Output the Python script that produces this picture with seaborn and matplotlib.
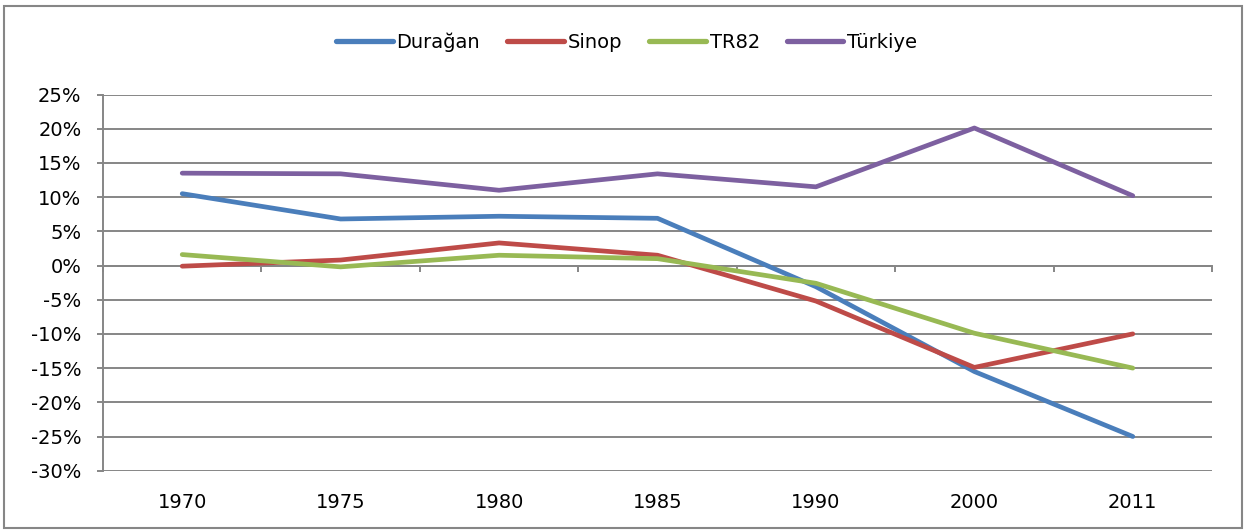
import numpy as np
import pandas as pd
import seaborn as sns
import matplotlib
matplotlib.use("Agg")
import matplotlib.pyplot as plt
from matplotlib.patches import Rectangle

# data (percent)
years = ["1970", "1975", "1980", "1985", "1990", "2000", "2011"]
duragan = [10.5, 6.8, 7.2, 6.9, -3.1, -15.5, -25.0]
sinop = [-0.1, 0.8, 3.3, 1.5, -5.2, -14.9, -10.0]
tr82 = [1.6, -0.2, 1.5, 1.0, -2.6, -9.9, -15.0]
turkiye = [13.5, 13.4, 11.0, 13.4, 11.5, 20.1, 10.2]

series = ["Durağan", "Sinop", "TR82", "Türkiye"]
colors = ["#4a7ebb", "#be4b48", "#98b954", "#7d60a0"]

df = pd.DataFrame({"yil": years, "Durağan": duragan, "Sinop": sinop,
                   "TR82": tr82, "Türkiye": turkiye})
df = df.melt(id_vars="yil", var_name="seri", value_name="deger")

sns.set_style("white")
plt.rcParams["font.family"] = ["DejaVu Sans"]
plt.rcParams["text.color"] = "black"
gri = "#868686"

fig = plt.figure(figsize=(12.46, 5.31), dpi=100)
ax = fig.add_axes([103 / 1246, 1 - 470.7 / 531, 1109 / 1246, 376.2 / 531])

sns.lineplot(data=df, x="yil", y="deger", hue="seri", hue_order=series,
             palette=dict(zip(series, colors)), linewidth=3.4, sort=False,
             ax=ax, legend=True)
for ln in ax.get_lines():
    ln.set_solid_capstyle("round")

# axes styling, excel-ish
ax.set_xlim(-0.5, len(years) - 0.5)
ax.set_ylim(-30, 25)
ax.set_yticks(np.arange(-30, 26, 5))
ax.set_yticklabels([f"{v}%" for v in range(-30, 26, 5)])
ax.set_xlabel("")
ax.set_ylabel("")
ax.grid(axis="y", color=gri, linewidth=1.4)
ax.grid(axis="x", visible=False)
for s in ["top", "right", "bottom"]:
    ax.spines[s].set_visible(False)
ax.spines["left"].set_color(gri)
ax.spines["left"].set_linewidth(1.4)
ax.tick_params(axis="y", direction="out", length=4.5, width=1.4, color=gri,
               labelsize=14, labelcolor="black", pad=11, left=True)
ax.tick_params(axis="x", length=0, labelsize=14, labelcolor="black", pad=16)

# horizontal axis crosses at 0 with tick marks between categories
sec = ax.secondary_xaxis(30 / 55)
sec.set_alignment("bottom")
sec.set_xticks(np.arange(-0.5, len(years), 1.0))
sec.tick_params(axis="x", direction="out", length=4.5, width=1.4, color=gri,
                labelbottom=False, labeltop=False, top=False)
sec.spines["bottom"].set_color(gri)
sec.spines["bottom"].set_linewidth(1.4)
sec.spines["top"].set_visible(False)

# legend at top
h, l = ax.get_legend_handles_labels()
ax.legend_.remove()
for hh in h:
    hh.set_linewidth(3.8)
fig.legend(h, l, loc="center", bbox_to_anchor=(0.503, 1 - 42 / 531), ncol=4,
           frameon=False, fontsize=14, handlelength=2.9, handletextpad=0.2,
           columnspacing=1.4, labelcolor="black")

# chart border
fig.patches.append(Rectangle((4 / 1246, 3 / 531), 1238 / 1246, 522 / 531,
                             transform=fig.transFigure, fill=False,
                             edgecolor=gri, linewidth=1.5))

fig.savefig("out.png", dpi=100)
